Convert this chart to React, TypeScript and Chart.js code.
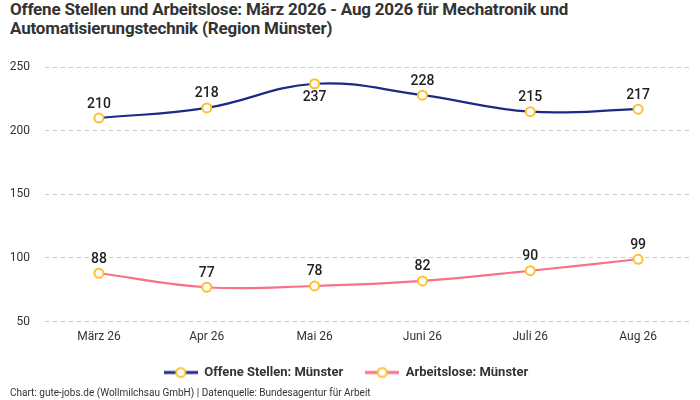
import { useEffect, useRef } from "react"
import { Chart, registerables } from "chart.js"

Chart.register(...registerables)

const months = ["März 26", "Apr 26", "Mai 26", "Juni 26", "Juli 26", "Aug 26"]
const offeneStellen = [210, 218, 237, 228, 215, 217]
const arbeitslose = [88, 77, 78, 82, 90, 99]
// labels drawn below the point instead of above
const belowLabels = [[2], []]

const FONT = "'Roboto', sans-serif"
const BLUE = "#1c2a86"
const PINK = "#f7718b"
const YELLOW = "#fdc12c"

function legendIcon(color: string) {
  const c = document.createElement("canvas")
  const r = window.devicePixelRatio || 1
  c.width = 34 * r
  c.height = 14 * r
  c.style.width = "34px"
  c.style.height = "14px"
  const ctx = c.getContext("2d")!
  ctx.scale(r, r)
  ctx.strokeStyle = color
  ctx.lineWidth = 3
  ctx.beginPath()
  ctx.moveTo(0, 7)
  ctx.lineTo(34, 7)
  ctx.stroke()
  ctx.beginPath()
  ctx.arc(17, 7, 4.5, 0, Math.PI * 2)
  ctx.fillStyle = "#fff"
  ctx.fill()
  ctx.strokeStyle = YELLOW
  ctx.lineWidth = 2
  ctx.stroke()
  return c
}

const valueLabels = {
  id: "valueLabels",
  afterDatasetsDraw(chart: Chart) {
    const ctx = chart.ctx
    ctx.save()
    ctx.font = `500 14px ${FONT}`
    ctx.fillStyle = "#222"
    ctx.textAlign = "center"
    chart.data.datasets.forEach((ds, i) => {
      const meta = chart.getDatasetMeta(i)
      meta.data.forEach((pt, j) => {
        const below = belowLabels[i].includes(j)
        ctx.textBaseline = below ? "top" : "bottom"
        ctx.fillText(String(ds.data[j]), pt.x, below ? pt.y + 7 : pt.y - 7)
      })
    })
    ctx.restore()
  },
}

export default function App() {
  const chartRef = useRef<HTMLCanvasElement>(null)
  const chartInstance = useRef<Chart | null>(null)

  useEffect(() => {
    document.body.style.margin = "0"
    if (!chartRef.current) return
    if (chartInstance.current) chartInstance.current.destroy()

    const point = {
      pointStyle: "circle" as const,
      pointRadius: 4.5,
      pointHoverRadius: 4.5,
      pointBackgroundColor: "#fff",
      pointBorderColor: YELLOW,
      pointBorderWidth: 2,
      borderWidth: 2.2,
      tension: 0.4,
    }

    chartInstance.current = new Chart(chartRef.current, {
      type: "line",
      data: {
        labels: months,
        datasets: [
          { label: "Offene Stellen: Münster", data: offeneStellen, borderColor: BLUE, ...point },
          { label: "Arbeitslose: Münster", data: arbeitslose, borderColor: PINK, ...point },
        ],
      },
      options: {
        animation: false,
        responsive: true,
        maintainAspectRatio: false,
        layout: { padding: { top: 17, right: 8, left: 0, bottom: 0 } },
        plugins: {
          legend: {
            position: "bottom",
            labels: {
              usePointStyle: true,
              pointStyleWidth: 34,
              padding: 22,
              color: "#333",
              font: { family: FONT, size: 13, weight: "bold" },
              generateLabels: (chart: Chart) =>
                chart.data.datasets.map((ds: any, i) => ({
                  text: ds.label,
                  pointStyle: legendIcon(ds.borderColor),
                  fillStyle: "#fff",
                  strokeStyle: ds.borderColor,
                  lineWidth: 0,
                  hidden: false,
                  datasetIndex: i,
                  fontColor: "#333",
                })),
            },
          },
          tooltip: { enabled: false },
        },
        scales: {
          x: {
            offset: true,
            grid: { display: false },
            border: { display: false },
            ticks: { color: "#333", font: { family: FONT, size: 12 }, padding: 0 },
          },
          y: {
            min: 50,
            max: 250,
            afterFit: (s: any) => { s.width = 45 },
            border: { display: false, dash: [4, 4] },
            grid: { color: "#ccc", drawTicks: false },
            ticks: { stepSize: 50, color: "#333", font: { family: FONT, size: 12 }, padding: 15 },
          },
        },
      },
      plugins: [valueLabels],
    })

    return () => {
      chartInstance.current?.destroy()
      chartInstance.current = null
    }
  }, [])

  return (
    <div style={{ position: "relative", width: 700, height: 400, fontFamily: FONT, color: "#333" }}>
      <div style={{ position: "absolute", left: 10, top: 0, fontSize: 17, fontWeight: "bold", lineHeight: "19px", width: 640, letterSpacing: -0.2 }}>
        Offene Stellen und Arbeitslose: März 2026 - Aug 2026 für Mechatronik und Automatisierungstechnik (Region Münster)
      </div>
      <div style={{ position: "absolute", left: 0, top: 45, width: 700, height: 344 }}>
        <canvas ref={chartRef} />
      </div>
      <div style={{ position: "absolute", left: 10, top: 387, fontSize: 10, color: "#333" }}>
        Chart: gute-jobs.de (Wollmilchsau GmbH) | Datenquelle: Bundesagentur für Arbeit
      </div>
    </div>
  )
}
